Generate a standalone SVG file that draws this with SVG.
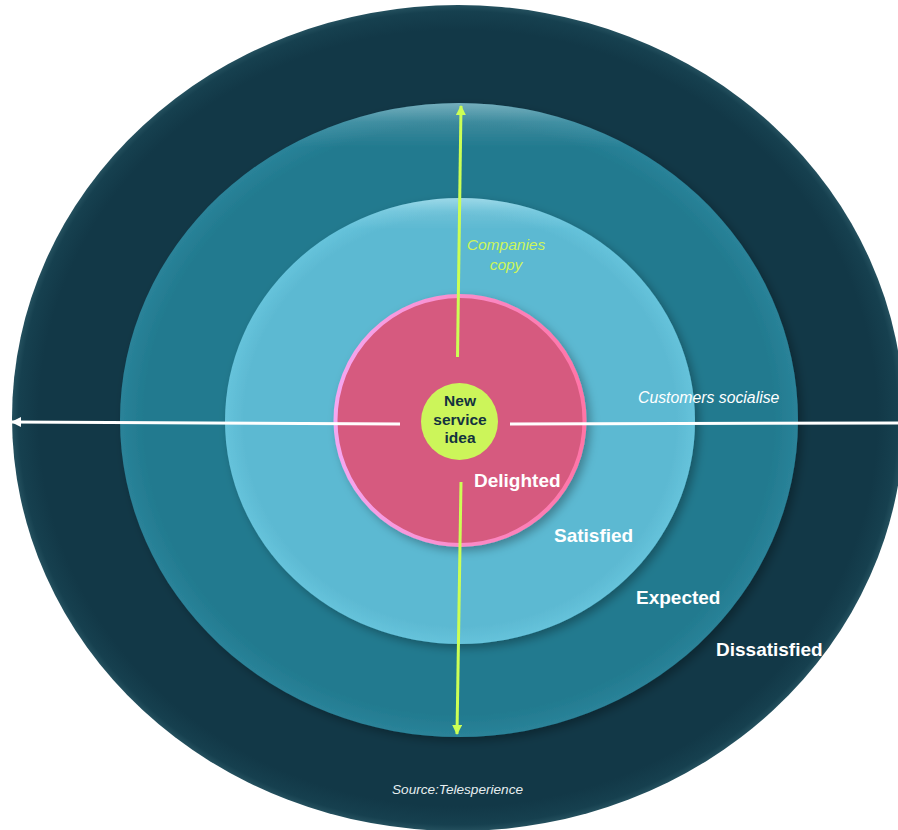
<svg xmlns="http://www.w3.org/2000/svg" width="898" height="830" viewBox="0 0 898 830">
  <defs>
    <style>
      .lbl { font-family: "Liberation Sans", Arial, sans-serif; font-weight: bold; font-size: 19px; fill: #ffffff; }
      .ital { font-family: "Liberation Sans", Arial, sans-serif; font-style: italic; }
      .idea { font-family: "Liberation Sans", Arial, sans-serif; font-weight: bold; font-size: 15.5px; fill: #13323f; text-anchor: middle; }
      .green { stroke: #ccff55; stroke-width: 3; fill: none; }
      .white { stroke: #ffffff; stroke-width: 3; fill: none; }
    </style>
    <linearGradient id="hl" x1="0" y1="0" x2="0" y2="1">
      <stop offset="0" stop-color="#ffffff" stop-opacity="0.35"/>
      <stop offset="0.03" stop-color="#ffffff" stop-opacity="0.12"/>
      <stop offset="0.07" stop-color="#ffffff" stop-opacity="0"/>
    </linearGradient>
    <radialGradient id="outerG" cx="0.5" cy="0.5" r="0.5">
      <stop offset="0.94" stop-color="#123847"/>
      <stop offset="0.985" stop-color="#16404f"/>
      <stop offset="1" stop-color="#24505e"/>
    </radialGradient>
    <radialGradient id="tealG" cx="0.5" cy="0.5" r="0.5">
      <stop offset="0.93" stop-color="#227a8f"/>
      <stop offset="1" stop-color="#2a8399"/>
    </radialGradient>
    <radialGradient id="lightG" cx="0.5" cy="0.5" r="0.5">
      <stop offset="0.92" stop-color="#5cb9d2"/>
      <stop offset="1" stop-color="#66c3db"/>
    </radialGradient>
    <linearGradient id="pinkStroke" x1="0" y1="0" x2="1" y2="0">
      <stop offset="0" stop-color="#f4a6f0"/>
      <stop offset="1" stop-color="#ff74a6"/>
    </linearGradient>
    <filter id="shadow" x="-10%" y="-10%" width="120%" height="120%">
      <feDropShadow dx="4" dy="4" stdDeviation="5" flood-color="#000000" flood-opacity="0.3"/>
    </filter>
    <marker id="arrGreen" viewBox="0 0 10 10" refX="9" refY="5" markerWidth="10" markerHeight="10" markerUnits="userSpaceOnUse" orient="auto">
      <path d="M0,0 L10,5 L0,10 z" fill="#ccff55"/>
    </marker>
    <marker id="arrWhite" viewBox="0 0 10 10" refX="9" refY="5" markerWidth="11" markerHeight="10" markerUnits="userSpaceOnUse" orient="auto">
      <path d="M0,0 L10,5 L0,10 z" fill="#ffffff"/>
    </marker>
  </defs>

  <rect x="0" y="0" width="898" height="830" fill="#ffffff"/>

  <g id="ring-dissatisfied">
    <ellipse cx="458" cy="418" rx="446" ry="413" fill="url(#outerG)"/>
  </g>

  <g id="ring-expected" filter="url(#shadow)">
    <ellipse cx="459" cy="420" rx="339" ry="317" fill="url(#tealG)"/>
    <ellipse cx="459" cy="420" rx="339" ry="317" fill="url(#hl)"/>
  </g>

  <g id="ring-satisfied" filter="url(#shadow)">
    <ellipse cx="460" cy="421" rx="235" ry="223" fill="url(#lightG)"/>
    <ellipse cx="460" cy="421" rx="235" ry="223" fill="url(#hl)"/>
  </g>

  <g id="ring-delighted" filter="url(#shadow)">
    <circle cx="460" cy="420.5" r="124.5" fill="#d65a7f" stroke="url(#pinkStroke)" stroke-width="4"/>
  </g>

  <g id="connectors">
    <line class="green" x1="457.5" y1="357" x2="461" y2="106" marker-end="url(#arrGreen)"/>
    <line class="green" x1="461" y1="482" x2="457" y2="734" marker-end="url(#arrGreen)"/>
    <line class="white" x1="400" y1="424" x2="12" y2="422" marker-end="url(#arrWhite)"/>
    <line class="white" x1="510" y1="424" x2="908" y2="423" marker-end="url(#arrWhite)"/>
  </g>

  <g id="node-idea">
    <circle cx="459.5" cy="421.5" r="38.5" fill="#ccf55a"/>
    <text class="idea" x="460" y="406">New</text>
    <text class="idea" x="460" y="425">service</text>
    <text class="idea" x="460" y="443">idea</text>
  </g>

  <g id="labels">
    <text class="ital" x="506" y="250" font-size="15.5" fill="#ccf55a" text-anchor="middle">Companies</text>
    <text class="ital" x="506" y="270" font-size="15.5" fill="#ccf55a" text-anchor="middle">copy</text>
    <text class="ital" x="638" y="403" font-size="15.8" fill="#ffffff">Customers socialise</text>
    <text class="lbl" x="474" y="487">Delighted</text>
    <text class="lbl" x="554" y="542">Satisfied</text>
    <text class="lbl" x="636" y="604">Expected</text>
    <text class="lbl" x="716" y="656">Dissatisfied</text>
    <text class="ital" x="392" y="794" font-size="13.6" fill="#e6eef0">Source:Telesperience</text>
  </g>
</svg>
